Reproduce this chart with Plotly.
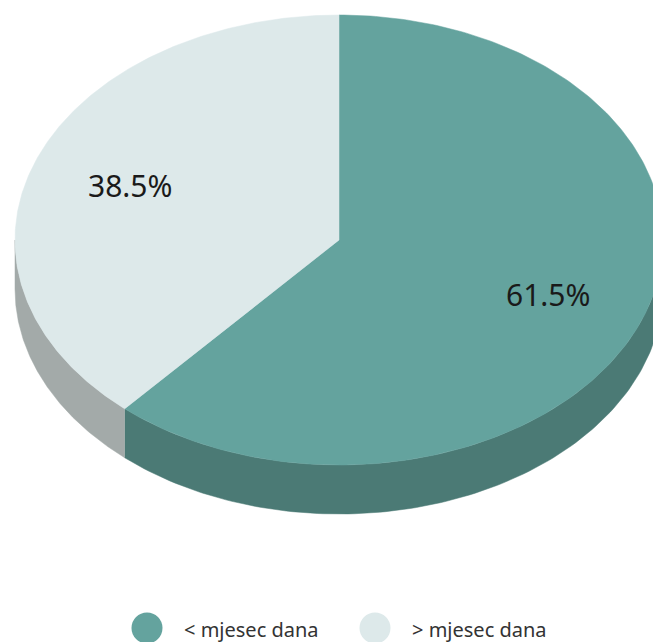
import numpy as np
import plotly.graph_objects as go

# data
labels = ["< mjesec dana", "> mjesec dana"]
values = [61.5, 38.5]
top_colors = ["#64a39e", "#dde9ea"]
side_colors = ["#4b7a75", "#a3aaa9"]

W, H = 653, 642
cx, cy, rx, ry, depth = 339, 240, 324, 225, 49


def pt(theta, dy=0):
    # theta in radians, clockwise from 12 o'clock
    return cx + rx * np.sin(theta), cy - ry * np.cos(theta) + dy


fig = go.Figure()

total = sum(values)
bounds = np.cumsum([0] + values) / total * 2 * np.pi

# sides (front half only: pi/2 .. 3pi/2)
for i in range(len(values)):
    a0 = max(bounds[i], np.pi / 2)
    a1 = min(bounds[i + 1], 3 * np.pi / 2)
    if a1 <= a0:
        continue
    t = np.linspace(a0, a1, 120)
    xt, yt = pt(t)
    xb, yb = pt(t[::-1], depth)
    fig.add_trace(go.Scatter(
        x=np.concatenate([xt, xb]), y=np.concatenate([yt, yb]),
        fill="toself", fillcolor=side_colors[i], mode="lines",
        line=dict(color=side_colors[i], width=0.5),
        hoverinfo="skip", showlegend=False,
    ))

# top faces
for i in range(len(values)):
    t = np.linspace(bounds[i], bounds[i + 1], 240)
    xt, yt = pt(t)
    fig.add_trace(go.Scatter(
        x=np.concatenate([[cx], xt, [cx]]), y=np.concatenate([[cy], yt, [cy]]),
        fill="toself", fillcolor=top_colors[i], mode="lines",
        line=dict(color=top_colors[i], width=0.5),
        hoverinfo="skip", showlegend=False,
    ))

# percentage labels
for i in range(len(values)):
    mid = (bounds[i] + bounds[i + 1]) / 2
    lx = cx + 0.69 * rx * np.sin(mid)
    ly = cy - 0.69 * ry * np.cos(mid)
    fig.add_annotation(x=lx, y=ly, text=f"{values[i]:.1f}%", showarrow=False,
                       font=dict(family="Noto Sans", size=30, color="#1a1a1a"))

# legend
leg_x = [147, 375]
for i in range(len(values)):
    fig.add_trace(go.Scatter(
        x=[leg_x[i]], y=[628], mode="markers",
        marker=dict(size=31, color=top_colors[i]),
        hoverinfo="skip", showlegend=False,
    ))
    fig.add_annotation(x=leg_x[i] + 35, y=629, text=labels[i], showarrow=False,
                       xanchor="left", font=dict(family="Noto Sans", size=20, color="#333333"))

fig.update_layout(
    width=W, height=H,
    margin=dict(l=0, r=0, t=0, b=0),
    paper_bgcolor="white", plot_bgcolor="white",
    xaxis=dict(range=[0, W], visible=False, fixedrange=True),
    yaxis=dict(range=[H, 0], visible=False, fixedrange=True),
)

fig.write_html(
    "out.html",
    config={"displayModeBar": False},
    post_script="document.body.style.margin='0';document.body.style.overflow='hidden';",
)
